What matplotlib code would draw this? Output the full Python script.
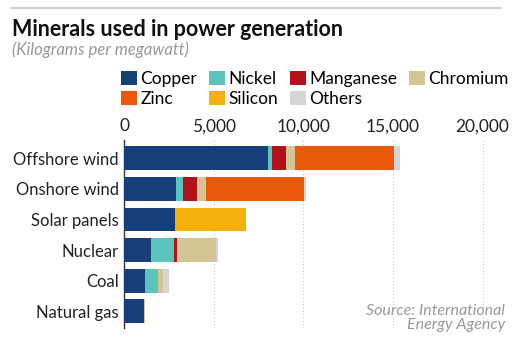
import numpy as np
import matplotlib
matplotlib.use("Agg")
import matplotlib.pyplot as plt
from matplotlib.lines import Line2D

plt.rcParams['font.family'] = ['Lato', 'DejaVu Sans']

categories = ['Offshore wind', 'Onshore wind', 'Solar panels', 'Nuclear', 'Coal', 'Natural gas']
minerals = ['Copper', 'Nickel', 'Manganese', 'Chromium', 'Zinc', 'Silicon', 'Others']
colors = ['#163f7a', '#5cc3bd', '#b3111c', '#d4c596', '#e8590c', '#f6b00c', '#d5d5d5']

copper = [8000, 2900, 2822, 1473, 1150, 1100]
nickel = [240, 404, 0, 1297, 721, 16]
manganese = [790, 780, 0, 148, 0, 0]
chromium = [525, 470, 0, 2190, 308, 48]
zinc = [5500, 5500, 0, 0, 0, 0]
silicon = [0, 0, 3980, 0, 0, 0]
others = [350, 100, 0, 145, 300, 0]

series = [copper, nickel, manganese, chromium, zinc, silicon, others]

fig = plt.figure(figsize=(5.31, 3.45), dpi=100)
ax = fig.add_axes([124.3 / 531, 1 - 328 / 345, (505 - 124.3) / 531, (328 - 140) / 345])

y = np.arange(len(categories))
left = np.zeros(len(categories))
for name, vals, col in zip(minerals, series, colors):
    vals = np.array(vals, dtype=float)
    ax.barh(y, vals, left=left, height=0.78, color=col, label=name, zorder=3)
    left += vals

ax.set_xlim(0, 21250)
ax.set_ylim(5.55, -0.6)
ax.set_yticks(y)
ax.set_yticklabels(categories, fontsize=12, color='#222222')
ax.set_xticks([0, 5000, 10000, 15000, 20000])
ax.set_xticklabels(['0', '5,000', '10,000', '15,000', '20,000'], fontsize=12.5, color='#222222')
ax.xaxis.tick_top()
ax.tick_params(axis='both', length=0, pad=4)
for s in ['top', 'right', 'bottom']:
    ax.spines[s].set_visible(False)
ax.spines['left'].set_color('#333333')
ax.spines['left'].set_linewidth(1)
ax.grid(axis='x', linestyle=(0, (1, 2)), color='#cccccc', linewidth=0.8, zorder=0)

# header
fig.add_artist(Line2D([12 / 531, 500 / 531], [1 - 8 / 345] * 2, color='#d0d0d0', linewidth=1.5))
fig.text(12 / 531, 1 - 29 / 345, 'Minerals used in power generation', fontsize=15.5,
         fontweight='bold', color='#111111', va='center', ha='left')
fig.text(12 / 531, 1 - 50 / 345, '(Kilograms per megawatt)', fontsize=12,
         style='italic', color='#999999', va='center', ha='left')

handles, labels = ax.get_legend_handles_labels()
order = [0, 4, 1, 5, 2, 6, 3]
fig.legend([handles[i] for i in order], [labels[i] for i in order], ncol=4,
           loc='upper left', bbox_to_anchor=(121 / 531, 1 - 71 / 345), frameon=False,
           fontsize=12.5, handlelength=0.9, handleheight=0.9, handletextpad=0.2,
           columnspacing=0.7, labelspacing=0.2, borderpad=0, borderaxespad=0)

fig.text(505 / 531, 1 - 318 / 345, 'Source: International\nEnergy Agency', fontsize=11.5,
         style='italic', color='#999999', ha='right', va='center', linespacing=1.05)

fig.savefig('out.png', dpi=100, facecolor='white')
